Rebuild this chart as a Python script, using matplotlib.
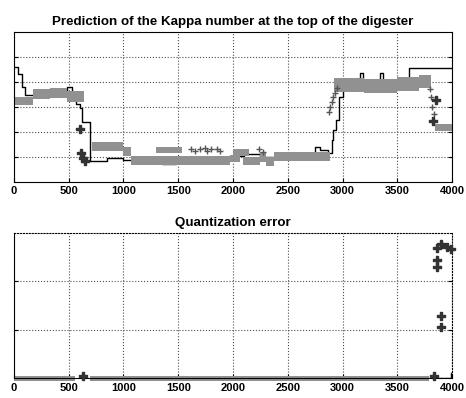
import matplotlib
matplotlib.use("Agg")
import matplotlib.pyplot as plt

plt.rcParams['font.family'] = ['Liberation Sans Narrow', 'Liberation Sans', 'DejaVu Sans']

# --- top panel: measured kappa number (black staircase) ---
kappa_x = [0, 40, 75, 100, 480, 530, 565, 600, 620, 690, 850, 1000, 1350, 1480,
           2000, 2100, 2250, 2750, 2790, 2870, 2900, 2915, 2945, 2970, 3000,
           3160, 3190, 3340, 3370, 3610, 4000]
kappa_y = [4.6, 4.3, 3.8, 3.48, 3.78, 3.48, 3.12, 2.96, 2.41, 0.85, 0.95, 0.88,
           0.72, 0.95, 1.05, 1.12, 1.0, 1.41, 1.28, 1.17, 1.68, 2.08, 2.48, 3.41,
           3.95, 4.37, 3.95, 4.37, 3.95, 4.55, 4.55]

# predicted values: grey band segments (start, end, low, high)
band_x0 = [0, 176, 330, 480, 710, 1000, 1070, 1300, 1300, 1970, 2000, 2090, 2245, 2300, 2370, 2920, 3200, 3500, 3700, 3845]
band_x1 = [176, 330, 480, 640, 1000, 1073, 1300, 1530, 1970, 2060, 2150, 2245, 2300, 2370, 2883, 3200, 3500, 3700, 3810, 4000]
band_lo = [3.08, 3.3, 3.35, 3.2, 1.25, 1.05, 0.7, 1.15, 0.7, 0.81, 1.02, 0.68, 0.81, 0.65, 0.82, 3.6, 3.55, 3.65, 3.75, 2.05]
band_hi = [3.41, 3.7, 3.75, 3.65, 1.58, 1.41, 1.05, 1.41, 1.02, 1.08, 1.32, 1.01, 1.21, 1.0, 1.2, 4.15, 4.1, 4.2, 4.28, 2.32]

# scattered prediction points
pts_x = [1620, 1650, 1700, 1740, 1760, 1800, 1850, 1880, 2240, 2270, 2880, 2890, 2900, 2910, 2930, 2950, 3800, 3810, 3820, 3840]
pts_y = [1.3, 1.22, 1.3, 1.35, 1.25, 1.3, 1.3, 1.22, 1.3, 1.2, 2.8, 3.0, 3.2, 3.4, 3.55, 3.75, 3.7, 3.4, 3.0, 2.7]

# dark clusters
blob_x = [600, 615, 630, 650, 3857, 3825]
blob_y = [2.1, 1.15, 0.95, 0.85, 3.28, 2.45]

# --- bottom panel: quantization error ---
qband_x0 = [0, 693]
qband_x1 = [556, 3794]
qblob_x = [630, 3840, 3860, 3900, 3950, 3990, 3860, 3865, 3900, 3900]
qblob_y = [0.05, 0.05, 2.7, 2.78, 2.72, 2.68, 2.45, 2.3, 1.29, 1.07]
qline_x = [3850, 3990, 3990]
qline_y = [0.02, 0.02, 0.12]

xticks = [0, 500, 1000, 1500, 2000, 2500, 3000, 3500, 4000]

fig = plt.figure(figsize=(4.66, 3.98), dpi=100)
ax1 = fig.add_axes([0.030, 0.5427, 0.940, 0.377])
ax2 = fig.add_axes([0.030, 0.049, 0.940, 0.3656])

band_col = '#919191'
dark = '#333333'

for i in range(len(band_x0)):
    ax1.bar(band_x0[i], band_hi[i] - band_lo[i], width=band_x1[i] - band_x0[i],
            bottom=band_lo[i], align='edge', color=band_col, linewidth=0, zorder=2)
ax1.scatter(pts_x, pts_y, marker='+', s=16, color='#555555', linewidths=1, zorder=3)
ax1.scatter(blob_x, blob_y, marker='P', s=40, color=dark, zorder=4)
ax1.step(kappa_x, kappa_y, where='post', color='black', lw=1.0, zorder=1.8)
ax1.set_ylim(0, 6)
ax1.set_yticks([1, 2, 3, 4, 5])
ax1.set_title('Prediction of the Kappa number at the top of the digester',
              fontsize=9.6, fontweight='bold', pad=5)

for i in range(len(qband_x0)):
    ax2.bar(qband_x0[i], 0.1, width=qband_x1[i] - qband_x0[i], bottom=-0.05,
            align='edge', color=band_col, linewidth=0, zorder=2, clip_on=False)
ax2.scatter(qblob_x, qblob_y, marker='P', s=40, color=dark, zorder=4, clip_on=False)
ax2.plot(qline_x, qline_y, color='black', lw=1.0, zorder=5)
ax2.set_ylim(0, 3)
ax2.set_yticks([1, 2])
ax2.set_title('Quantization error', fontsize=9.6, fontweight='bold', pad=5)
for s in ['top', 'right']:
    ax2.spines[s].set_linestyle(':')

for ax in (ax1, ax2):
    ax.set_axisbelow(True)
    ax.set_xlim(0, 4000)
    ax.set_xticks(xticks)
    ax.set_xticklabels([str(t) for t in xticks], fontweight='bold', fontsize=8)
    ax.set_yticklabels([])
    ax.grid(True, linestyle=':', color='0.3', linewidth=0.8)
    ax.tick_params(direction='in', right=True, length=3, pad=3)

fig.savefig('out.png', dpi=100)
